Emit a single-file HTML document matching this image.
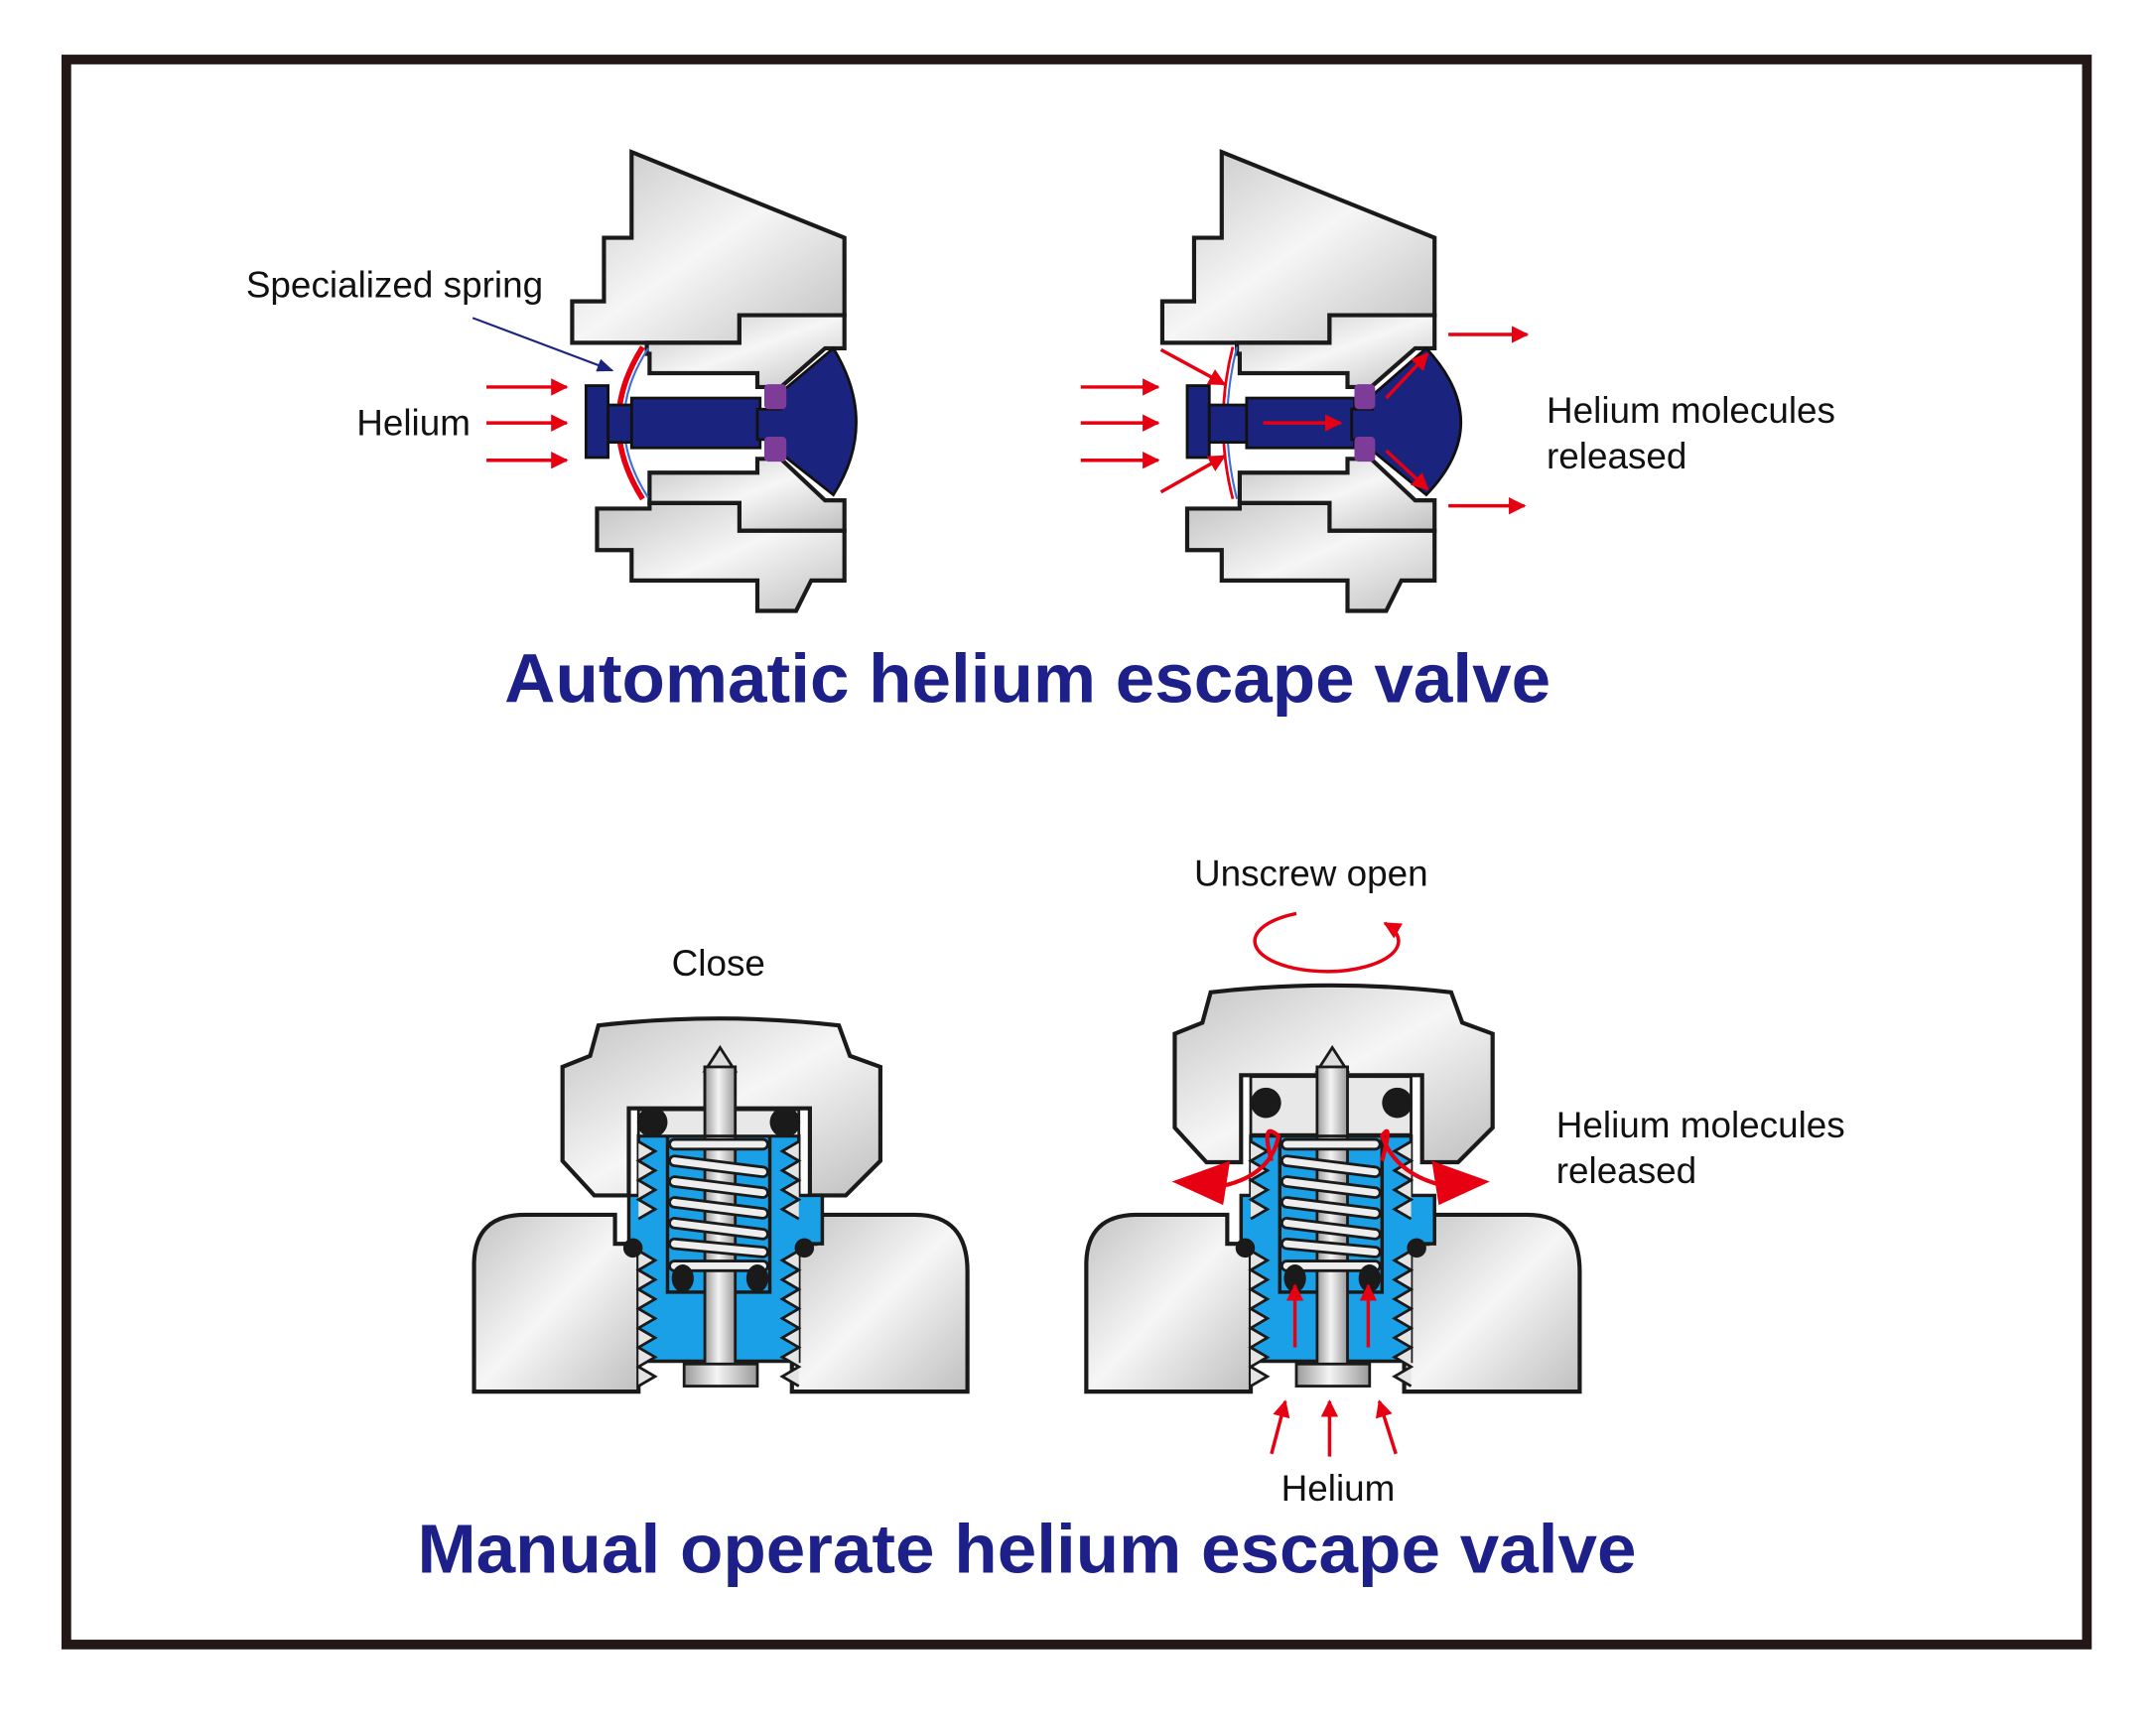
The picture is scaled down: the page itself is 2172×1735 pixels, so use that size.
<!DOCTYPE html>
<html><head><meta charset="utf-8"><style>
html,body{margin:0;padding:0;background:#fff}
svg{display:block}
text{font-family:"Liberation Sans",Arial,sans-serif}
</style></head><body>
<svg width="2172" height="1735" viewBox="0 0 1560 1246" xmlns="http://www.w3.org/2000/svg">
<defs>
<linearGradient id="g" x1="0" y1="0" x2="1" y2="1">
<stop offset="0" stop-color="#c4c4c4"/><stop offset="0.5" stop-color="#f6f6f6"/><stop offset="1" stop-color="#c0c0c0"/>
</linearGradient>
<linearGradient id="st" x1="0" y1="0" x2="1" y2="0">
<stop offset="0" stop-color="#9a9a9a"/><stop offset="0.45" stop-color="#f4f4f4"/><stop offset="1" stop-color="#9a9a9a"/>
</linearGradient>
<marker id="ar" viewBox="0 0 10 10" refX="9" refY="5" markerWidth="5" markerHeight="5" orient="auto"><path d="M0,0 L10,5 L0,10 Z" fill="#e60012"/></marker>
<marker id="ab" viewBox="0 0 10 10" refX="9" refY="5" markerWidth="8" markerHeight="8" orient="auto"><path d="M0,1 L10,5 L0,9 Z" fill="#1a237e"/></marker>

<g id="autobody" stroke="#1a1a1a" stroke-width="3" fill="url(#g)" stroke-linejoin="miter">
<path d="M457,110 L611,172 L611,228 L535,228 L535,248 L414,248 L414,218 L437,218 L437,172 L457,172 Z"/>
<path d="M468,248 L535,248 L535,228 L611,228 L611,252 L597,252 L565,280 L548,280 L548,270 L470,270 L470,256 L468,256 Z"/>
<path d="M470,342 L548,342 L548,332 L565,332 L597,362 L611,362 L611,384 L535,384 L535,364 L470,364 Z"/>
<path d="M432,368 L470,368 L470,364 L535,364 L535,384 L611,384 L611,420 L587,420 L576,442 L548,442 L548,420 L457,420 L457,398 L432,398 Z"/>
</g>
</defs>

<rect x="48" y="43" width="1462" height="1147" fill="none" stroke="#231815" stroke-width="7"/>

<!-- Automatic left -->
<use href="#autobody"/>
<path d="M465,251 Q430,306 465,361" fill="none" stroke="#e60012" stroke-width="4"/>
<path d="M469,252 Q434,306 469,360" fill="none" stroke="#3a6fd8" stroke-width="1.5"/>
<g fill="#1a237e" stroke="#111" stroke-width="2">
<rect x="424" y="279" width="16" height="52"/>
<rect x="440" y="293" width="18" height="27"/>
<rect x="457" y="288" width="93" height="36"/>
<path d="M548,296 L565,296 L565,284 L603,252 Q636,306 603,358 L565,328 L565,318 L548,318 Z"/>
</g>
<rect x="553" y="278" width="16" height="18" rx="3" fill="#7d3c98"/>
<rect x="553" y="316" width="16" height="18" rx="3" fill="#7d3c98"/>
<g stroke="#e60012" stroke-width="2.5" marker-end="url(#ar)">
<line x1="352" y1="280" x2="410" y2="280"/><line x1="352" y1="306" x2="410" y2="306"/><line x1="352" y1="333" x2="410" y2="333"/>
</g>
<line x1="342" y1="230" x2="443" y2="268" stroke="#1a237e" stroke-width="1.5" marker-end="url(#ab)"/>
<text x="178" y="215" font-size="26.5" fill="#111">Specialized spring</text>
<text x="258" y="315" font-size="26.5" fill="#111">Helium</text>

<!-- Automatic right -->
<use href="#autobody" transform="translate(427,0)"/>
<path d="M892,251 Q878,306 892,361" fill="none" stroke="#e60012" stroke-width="2"/>
<path d="M895,251 Q881,306 895,361" fill="none" stroke="#3a6fd8" stroke-width="1.5"/>
<g fill="#1a237e" stroke="#111" stroke-width="2">
<rect x="859" y="279" width="16" height="52"/>
<rect x="875" y="293" width="28" height="27"/>
<rect x="902" y="288" width="78" height="36"/>
<path d="M978,296 L993,296 L993,286 L1032,252 Q1082,306 1032,358 L993,326 L993,318 L978,318 Z"/>
</g>
<rect x="980" y="278" width="15" height="18" rx="3" fill="#7d3c98"/>
<rect x="980" y="316" width="15" height="18" rx="3" fill="#7d3c98"/>
<g stroke="#e60012" stroke-width="2.5" marker-end="url(#ar)">
<line x1="782" y1="280" x2="838" y2="280"/><line x1="782" y1="306" x2="838" y2="306"/><line x1="782" y1="333" x2="838" y2="333"/>
<line x1="840" y1="253" x2="886" y2="278"/><line x1="840" y1="356" x2="886" y2="330"/>
<line x1="914" y1="306" x2="970" y2="306"/>
<line x1="1003" y1="288" x2="1033" y2="256"/><line x1="1003" y1="326" x2="1033" y2="354"/>
<line x1="1048" y1="242" x2="1105" y2="242"/><line x1="1048" y1="366" x2="1103" y2="366"/>
</g>
<text x="1119" y="306" font-size="26.5" fill="#111">Helium molecules</text>
<text x="1119" y="339" font-size="26.5" fill="#111">released</text>

<text x="365" y="508" font-size="50" font-weight="bold" fill="#1d2088" textLength="757" lengthAdjust="spacingAndGlyphs">Automatic helium escape valve</text>

<!-- Manual valves -->
<defs>
<g id="base" stroke="#1a1a1a" stroke-width="3" fill="url(#g)">
<path d="M343,1007 L343,915 Q343,879 380,879 L445,879 L445,900 L462,900 L462,1007 Z"/>
<path d="M573,1007 L573,900 L590,900 L590,879 L662,879 Q700,879 700,920 L700,1007 Z"/>
</g>
<g id="cap" stroke="#1a1a1a" stroke-width="3" fill="url(#g)">
<path d="M433,742 Q520,732 607,742 L615,764 L637,772 L637,840 L612,865 L586,865 L586,802 L455,802 L455,865 L430,865 L407,840 L407,772 L427,764 Z"/>
</g>
<g id="insides">
<path d="M462,822 L578,822 L578,865 L595,865 L595,900 L578,900 L578,985 L462,985 L462,900 L455,900 L455,865 L462,865 Z" fill="#1aa0e6" stroke="#1a1a1a" stroke-width="2.5"/>
<path d="M462,826 l12,7 l-12,7 l12,7 l-12,7 l12,7 l-12,7 l12,7 l-12,7 M462,905 l12,7 l-12,7 l12,7 l-12,7 l12,7 l-12,7 l12,7 l-12,7 l12,7 l-12,7 l12,7 l-12,7 l12,7 l-12,7" fill="#e4e4e4" stroke="#1a1a1a" stroke-width="2"/>
<path d="M578,826 l-12,7 l12,7 l-12,7 l12,7 l-12,7 l12,7 l-12,7 l12,7 M578,905 l-12,7 l12,7 l-12,7 l12,7 l-12,7 l12,7 l-12,7 l12,7 l-12,7 l12,7 l-12,7 l12,7 l-12,7 l12,7" fill="#e4e4e4" stroke="#1a1a1a" stroke-width="2"/>
<rect x="483" y="822" width="74" height="113" fill="#1aa0e6" stroke="#1a1a1a" stroke-width="2.5"/>
<rect x="510" y="772" width="22" height="218" fill="url(#st)" stroke="#1a1a1a" stroke-width="2"/>
<path d="M510,775 L521,758 L532,775 Z" fill="#ddd" stroke="#1a1a1a" stroke-width="2"/>
<g stroke="#1a1a1a" stroke-width="9" stroke-linecap="round"><path d="M488,828 L552,828 M488,840 L552,848 M488,855 L552,863 M488,870 L552,878 M488,885 L552,893 M488,900 L552,906 M488,916 L552,916"/></g>
<g stroke="#eee" stroke-width="5" stroke-linecap="round"><path d="M488,828 L552,828 M488,840 L552,848 M488,855 L552,863 M488,870 L552,878 M488,885 L552,893 M488,900 L552,906 M488,916 L552,916"/></g>
<rect x="495" y="987" width="53" height="16" fill="url(#st)" stroke="#1a1a1a" stroke-width="2"/>
<g fill="#1a1a1a"><ellipse cx="494" cy="925" rx="8" ry="10"/><ellipse cx="548" cy="925" rx="8" ry="10"/><circle cx="458" cy="903" r="7"/><circle cx="582" cy="903" r="7"/></g>
</g>
</defs>

<!-- left manual -->
<use href="#base"/>
<use href="#cap"/>
<use href="#insides"/>
<rect x="462" y="803" width="116" height="19" fill="#e8e8e8" stroke="#1a1a1a" stroke-width="2"/>
<rect x="510" y="772" width="22" height="50" fill="url(#st)" stroke="#1a1a1a" stroke-width="2"/>
<circle cx="472" cy="812" r="11" fill="#1a1a1a"/><circle cx="568" cy="812" r="11" fill="#1a1a1a"/>
<text x="486" y="706" font-size="26.5" fill="#111">Close</text>

<!-- right manual -->
<use href="#base" transform="translate(443,0)"/>
<use href="#cap" transform="translate(443,-24)"/>
<use href="#insides" transform="translate(443,0)"/>
<rect x="905" y="779" width="116" height="42" fill="#e8e8e8" stroke="#1a1a1a" stroke-width="2"/>
<rect x="953" y="772" width="22" height="50" fill="url(#st)" stroke="#1a1a1a" stroke-width="2"/>
<circle cx="916" cy="798" r="11" fill="#1a1a1a"/><circle cx="1011" cy="798" r="11" fill="#1a1a1a"/>
<g fill="none" stroke="#e60012" stroke-width="3">
<path d="M920,840 Q912,810 925,822 Q920,850 885,858"/>
<path d="M1000,840 Q1008,810 1000,822 Q1010,850 1045,858"/>
</g>
<path d="M848,855 L890,840 L885,872 Z" fill="#e60012"/>
<path d="M1078,855 L1036,840 L1041,872 Z" fill="#e60012"/>
<g stroke="#e60012" stroke-width="2.5" marker-end="url(#ar)">
<line x1="937" y1="975" x2="937" y2="930"/><line x1="990" y1="975" x2="990" y2="930"/>
<line x1="920" y1="1052" x2="930" y2="1014"/><line x1="962" y1="1054" x2="962" y2="1014"/><line x1="1010" y1="1052" x2="998" y2="1014"/>
</g>
<path d="M938,661 A52,22 0 1,0 1002,668" fill="none" stroke="#e60012" stroke-width="2.5" marker-end="url(#ar)"/>
<text x="864" y="641" font-size="26.5" fill="#111">Unscrew open</text>
<text x="1126" y="823" font-size="26.5" fill="#111">Helium molecules</text>
<text x="1126" y="856" font-size="26.5" fill="#111">released</text>
<text x="927" y="1086" font-size="26.5" fill="#111">Helium</text>

<text x="302" y="1138" font-size="50" font-weight="bold" fill="#1d2088" textLength="882" lengthAdjust="spacingAndGlyphs">Manual operate helium escape valve</text>
</svg>
</body></html>
